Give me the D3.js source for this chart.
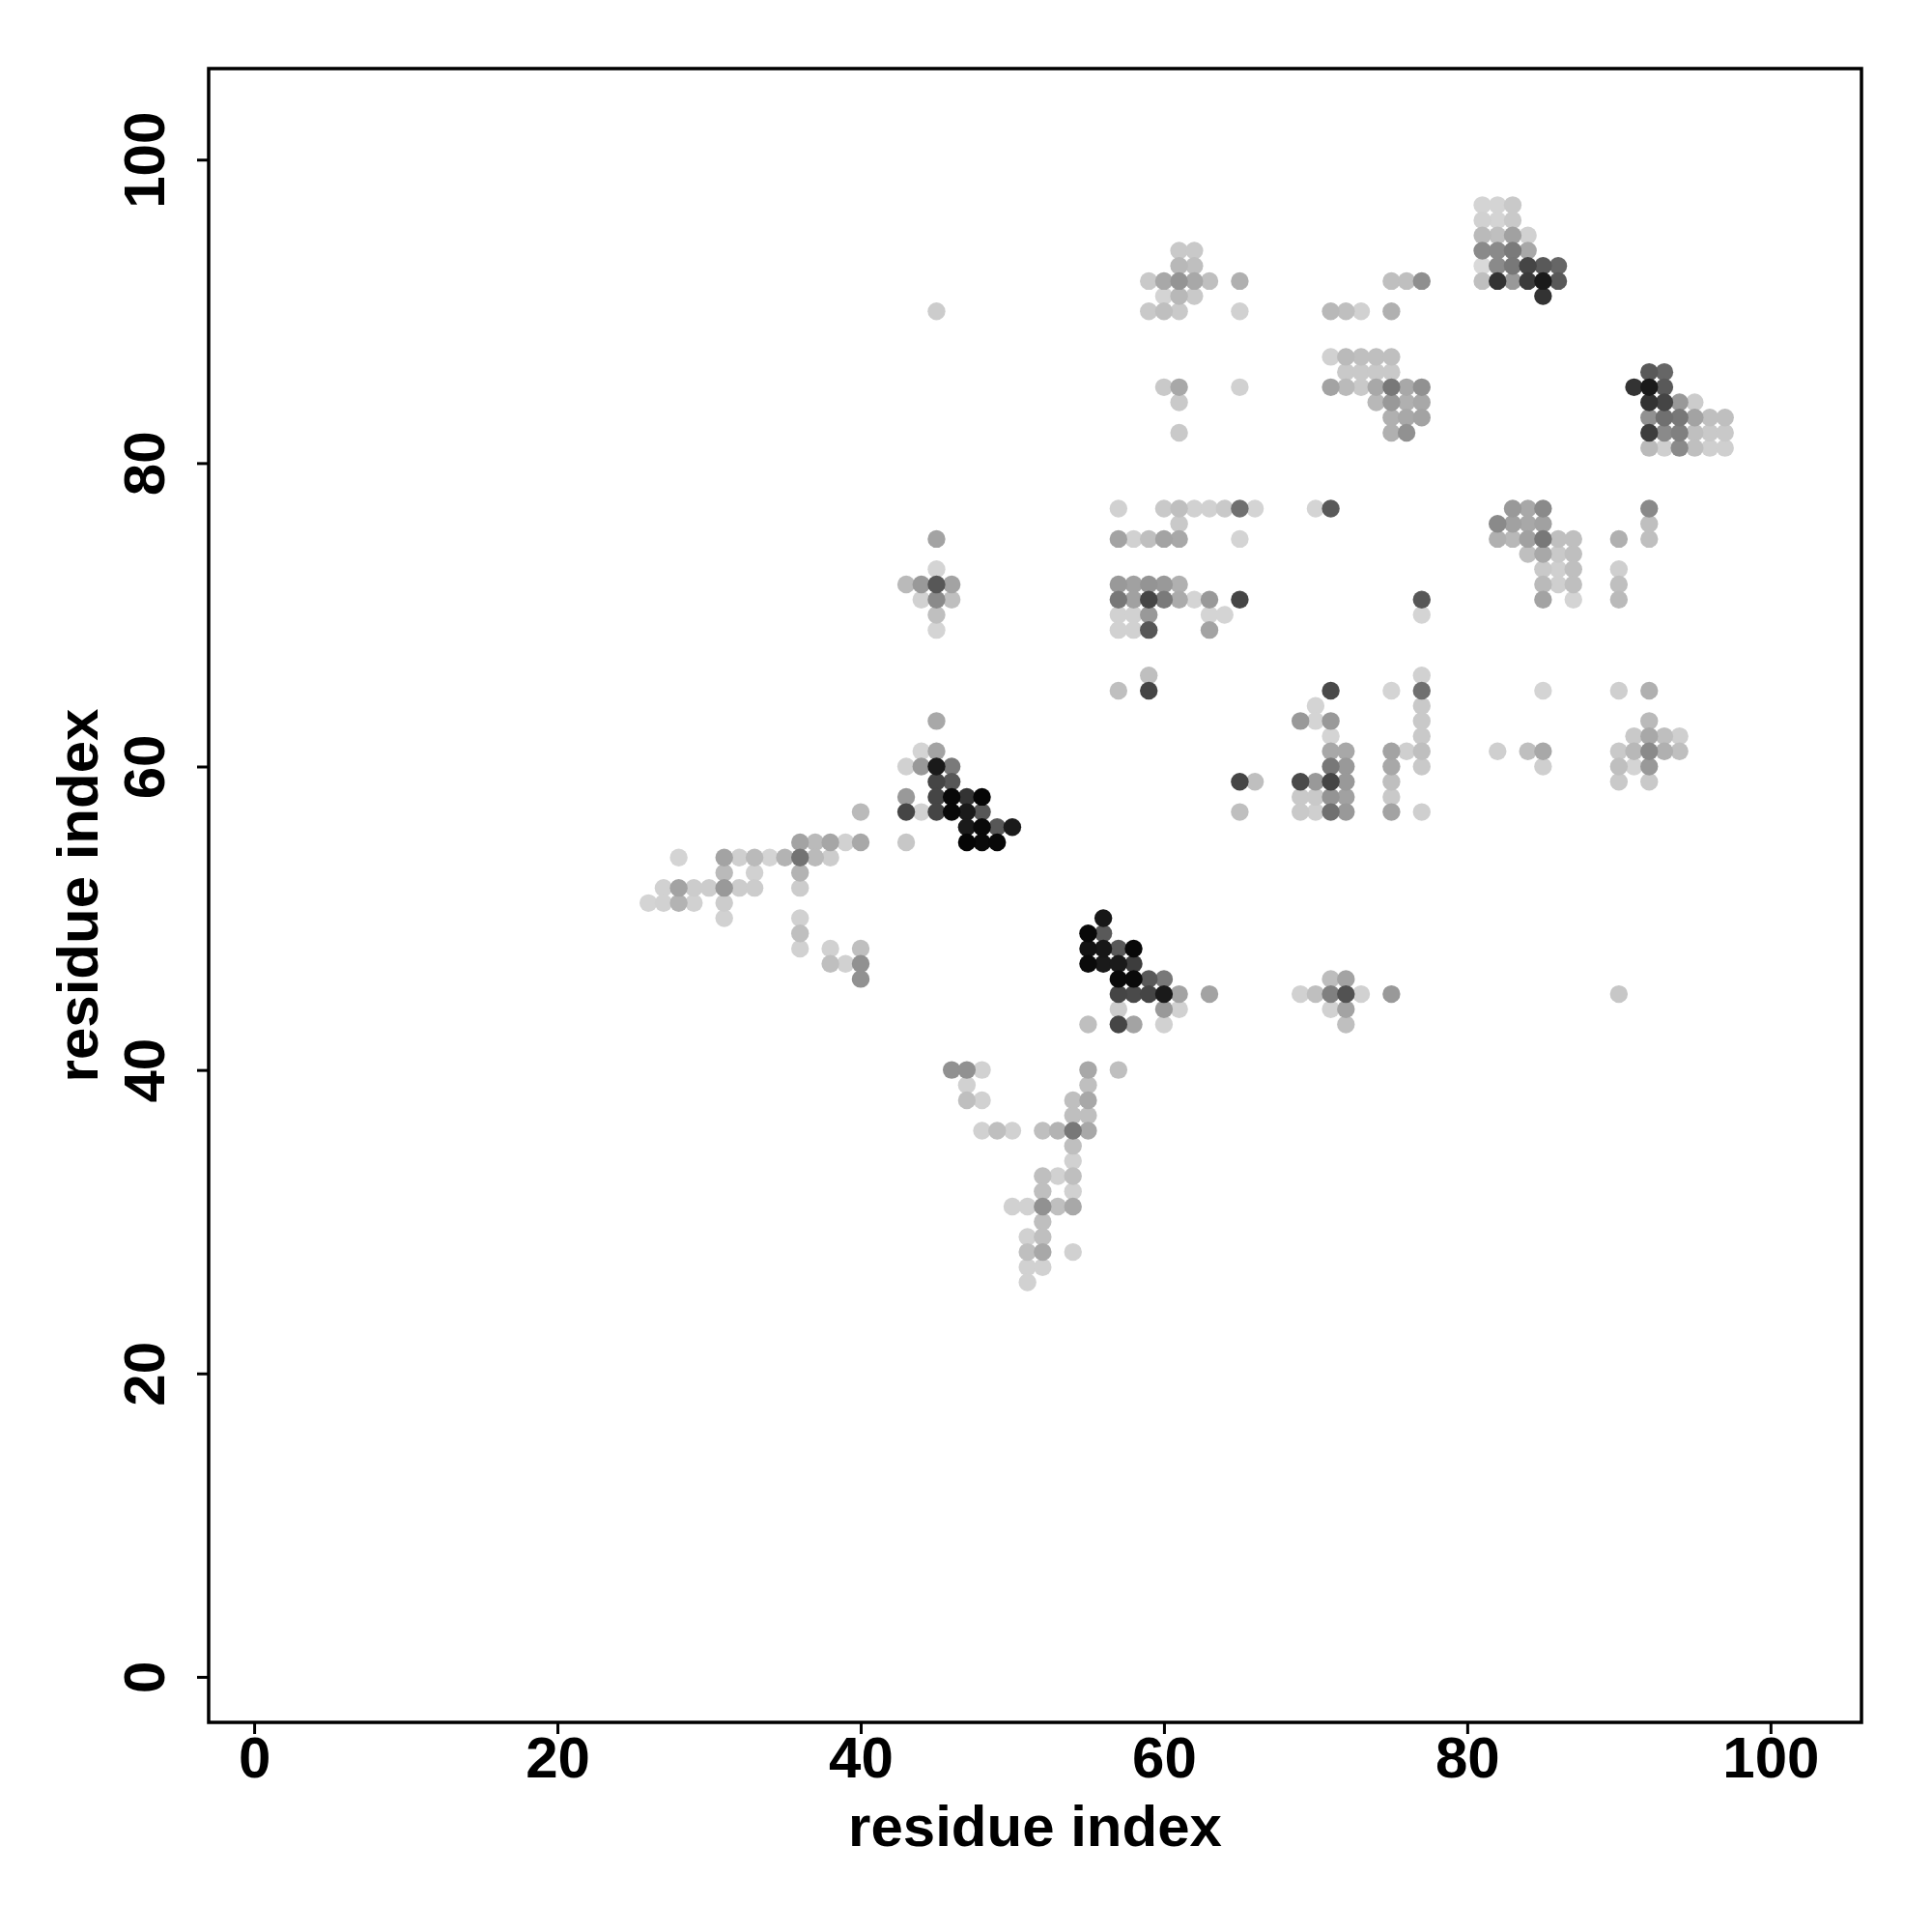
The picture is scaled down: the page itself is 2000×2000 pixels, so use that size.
<!DOCTYPE html>
<html>
<head>
<meta charset="utf-8">
<script src="https://cdn.jsdelivr.net/npm/d3@7"></script>
<style>
  html, body { margin: 0; padding: 0; background: #ffffff; }
  svg { display: block; }
</style>
</head>
<body>
<svg id="chart" width="2000" height="2000"></svg>
<script>
// ---- data ----
const xTicks = [0, 20, 40, 60, 80, 100];
const yTicks = [0, 20, 40, 60, 80, 100];
const xTitle = "residue index";
const yTitle = "residue index";

// contacts: [residue i, residue j, contact frequency]
const contacts = [
  // lower strand region
  [31,50,.18],[36,50,.18],[36,49,.25],[36,48,.18],[38,48,.18],[40,48,.25],
  [38,47,.25],[39,47,.18],[40,47,.43],[40,46,.43],
  [46,40,.43],[47,40,.43],[48,40,.18],[47,39,.18],[47,38,.25],[48,38,.18],
  [48,36,.18],[49,36,.25],[50,36,.18],[50,31,.18],
  [55,40,.34],[57,40,.25],[55,39,.25],[54,38,.25],[55,38,.34],[54,37,.25],[55,37,.25],
  [52,36,.25],[53,36,.30],[54,36,.53],[55,36,.34],[54,35,.25],[54,34,.18],
  [52,33,.25],[53,33,.18],[54,33,.25],[52,32,.25],[54,32,.18],
  [51,31,.18],[52,31,.43],[53,31,.25],[54,31,.34],[52,30,.25],
  [51,29,.18],[52,29,.25],[51,28,.25],[52,28,.34],[54,28,.18],
  [51,27,.18],[52,27,.18],[51,26,.18],
  // helix / sheet near 45-60
  [56,50,.91],[55,49,.97],[56,49,.65],
  [55,48,.93],[56,48,.91],[57,48,.65],[58,48,.97],
  [55,47,.96],[56,47,.90],[57,47,.90],[58,47,.76],
  [57,46,.96],[58,46,.96],[59,46,.65],[60,46,.53],
  [57,45,.73],[58,45,.71],[59,45,.73],[60,45,.90],[61,45,.36],[63,45,.36],
  [69,45,.18],[70,45,.25],[71,45,.50],[72,45,.68],[73,45,.18],[75,45,.40],[90,45,.22],
  [71,46,.26],[72,46,.36],
  [57,44,.20],[60,44,.40],[61,44,.18],[71,44,.18],[72,44,.36],
  [55,43,.25],[57,43,.73],[58,43,.36],[60,43,.18],[72,43,.25],
  // region 26-50 x 51-75
  [45,75,.36],[45,73,.17],
  [43,72,.27],[44,72,.40],[45,72,.66],[46,72,.36],
  [44,71,.18],[45,71,.46],[46,71,.25],[45,70,.25],[45,69,.17],
  [45,63,.34],[44,61,.17],[45,61,.36],
  [43,60,.18],[44,60,.40],[45,60,.90],[46,60,.52],
  [45,59,.73],[46,59,.66],
  [43,58,.40],[45,58,.73],[46,58,.97],[47,58,.80],[48,58,.98],
  [40,57,.27],[43,57,.73],[44,57,.18],[45,57,.73],[46,57,.97],[47,57,.90],[48,57,.66],
  [47,56,.90],[48,56,.96],[49,56,.66],[50,56,.90],
  [36,55,.36],[37,55,.27],[38,55,.35],[39,55,.18],[40,55,.34],[43,55,.22],
  [47,55,.98],[48,55,.96],[49,55,.97],
  [28,54,.17],[31,54,.36],[32,54,.19],[33,54,.27],[34,54,.17],[35,54,.30],[36,54,.55],[37,54,.27],[38,54,.20],
  [31,53,.27],[33,53,.18],[36,53,.30],
  [27,52,.18],[28,52,.36],[29,52,.20],[30,52,.20],[31,52,.40],[32,52,.20],[33,52,.20],[36,52,.20],
  [26,51,.17],[27,51,.18],[28,51,.30],[29,51,.18],[31,51,.20],
  // region 56-75 x 51-75
  [57,75,.36],[58,75,.18],[59,75,.25],[60,75,.36],[61,75,.34],[65,75,.17],
  [57,72,.40],[58,72,.37],[59,72,.42],[60,72,.40],[61,72,.31],
  [57,71,.53],[58,71,.37],[59,71,.73],[60,71,.52],[61,71,.33],[62,71,.17],[63,71,.40],[65,71,.73],
  [57,70,.18],[58,70,.18],[59,70,.40],[63,70,.17],[64,70,.17],
  [57,69,.18],[58,69,.18],[59,69,.66],[63,69,.36],
  [59,66,.25],[57,65,.25],[59,65,.73],[71,65,.71],[75,65,.17],
  [70,64,.17],[69,63,.40],[70,63,.17],[71,63,.40],[71,62,.17],
  [71,61,.34],[72,61,.34],[75,61,.36],
  [71,60,.53],[72,60,.40],[75,60,.34],
  [65,59,.73],[66,59,.25],[69,59,.71],[70,59,.40],[71,59,.73],[72,59,.40],[75,59,.25],
  [69,58,.21],[70,58,.21],[71,58,.42],[72,58,.37],[75,58,.21],
  [65,57,.25],[69,57,.21],[70,57,.19],[71,57,.56],[72,57,.40],[75,57,.36],
  // region 76-97 x 51-75
  [82,75,.31],[83,75,.28],[84,75,.37],[85,75,.53],[86,75,.25],[87,75,.25],[90,75,.31],[92,75,.25],
  [84,74,.25],[85,74,.34],[86,74,.21],[87,74,.25],
  [85,73,.21],[86,73,.19],[87,73,.25],[90,73,.19],
  [85,72,.27],[86,72,.19],[87,72,.25],[90,72,.25],
  [85,71,.36],[87,71,.17],[90,71,.27],
  [77,71,.66],[77,70,.17],
  [77,66,.18],[77,65,.56],[77,64,.21],[77,63,.21],[77,62,.21],[77,61,.25],[77,60,.21],[77,57,.19],
  [76,61,.19],
  [85,65,.17],[90,65,.19],[92,65,.31],[92,63,.27],
  [91,62,.21],[92,62,.34],[93,62,.25],[94,62,.19],
  [82,61,.19],[84,61,.25],[85,61,.34],[90,61,.21],[91,61,.28],[92,61,.46],[93,61,.31],[94,61,.25],
  [85,60,.19],[90,60,.25],[91,60,.17],[92,60,.40],
  [90,59,.21],[92,59,.21],
  // region 56-77 x 76-94
  [61,94,.21],[62,94,.21],[61,93,.28],[62,93,.25],
  [59,92,.21],[60,92,.34],[61,92,.42],[62,92,.34],[63,92,.25],[65,92,.31],
  [60,91,.17],[61,91,.28],[62,91,.21],
  [59,90,.21],[60,90,.25],[61,90,.21],[65,90,.18],
  [71,90,.28],[72,90,.25],[73,90,.18],[75,90,.31],
  [75,92,.25],[76,92,.25],[77,92,.44],
  [71,87,.18],[72,87,.27],[73,87,.25],[74,87,.25],[75,87,.25],
  [72,86,.21],[73,86,.21],[74,86,.21],[75,86,.21],
  [60,85,.21],[61,85,.34],[65,85,.18],
  [71,85,.36],[72,85,.27],[73,85,.21],[74,85,.34],[75,85,.53],[76,85,.34],[77,85,.43],
  [61,84,.21],[74,84,.28],[75,84,.40],[76,84,.31],[77,84,.34],
  [75,83,.31],[76,83,.34],[77,83,.36],
  [61,82,.21],[75,82,.31],[76,82,.43],
  [57,77,.18],[60,77,.21],[61,77,.25],[62,77,.18],[63,77,.18],[64,77,.21],[65,77,.56],[66,77,.17],
  [70,77,.17],[71,77,.65],
  [61,76,.21],
  [45,90,.20],
  // region 81-97 x 76-97
  [81,97,.17],[82,97,.17],[83,97,.21],
  [81,96,.18],[82,96,.17],[83,96,.21],
  [81,95,.27],[82,95,.25],[83,95,.37],[84,95,.18],
  [81,94,.46],[82,94,.46],[83,94,.52],[84,94,.34],
  [81,93,.15],[82,93,.46],[83,93,.53],[84,93,.73],[85,93,.65],[86,93,.60],
  [81,92,.25],[82,92,.80],[83,92,.40],[84,92,.77],[85,92,.90],[86,92,.65],
  [85,91,.80],
  [92,86,.65],[93,86,.60],
  [91,85,.80],[92,85,.90],[93,85,.65],
  [92,84,.80],[93,84,.73],[94,84,.40],[95,84,.20],
  [92,83,.43],[93,83,.56],[94,83,.53],[95,83,.36],[96,83,.25],[97,83,.25],
  [92,82,.76],[93,82,.46],[94,82,.50],[95,82,.25],[96,82,.21],[97,82,.21],
  [92,81,.27],[93,81,.19],[94,81,.46],[95,81,.25],[96,81,.19],[97,81,.19],
  [83,77,.40],[84,77,.34],[85,77,.46],[92,77,.46],
  [82,76,.46],[83,76,.37],[84,76,.34],[85,76,.37],[92,76,.25]
];

// ---- layout ----
const svg = d3.select("#chart");
const plot = { left: 216, right: 1927, top: 71, bottom: 1783 };
const x = d3.scaleLinear().domain([-3, 106]).range([plot.left, plot.right]);
const y = d3.scaleLinear().domain([-3, 106]).range([plot.bottom, plot.top]);
const grey = d3.scaleLinear().domain([0, 1]).range(["#ffffff", "#000000"]);
const font = "'Liberation Sans', Arial, Helvetica, sans-serif";

svg.append("rect").attr("width", 2000).attr("height", 2000).attr("fill", "#ffffff");

// points
const sorted = contacts.slice().sort((a, b) => a[2] - b[2]);
svg.append("g").selectAll("circle")
  .data(sorted)
  .join("circle")
  .attr("cx", d => x(d[0]))
  .attr("cy", d => y(d[1]))
  .attr("r", 9.2)
  .attr("fill", d => grey(d[2]));

// frame
svg.append("rect")
  .attr("x", plot.left).attr("y", plot.top)
  .attr("width", plot.right - plot.left).attr("height", plot.bottom - plot.top)
  .attr("fill", "none").attr("stroke", "#000").attr("stroke-width", 3.5);

// x axis
const gx = svg.append("g")
  .attr("transform", `translate(0,${plot.bottom})`)
  .call(d3.axisBottom(x).tickValues(xTicks).tickSize(12).tickPadding(2).tickFormat(d3.format("d")));
gx.select(".domain").remove();
gx.selectAll("line").attr("stroke", "#000").attr("stroke-width", 3);
gx.selectAll("text")
  .attr("fill", "#000")
  .style("font-family", font).style("font-weight", "bold").style("font-size", "60px");

// y axis
const gy = svg.append("g")
  .attr("transform", `translate(${plot.left},0)`)
  .call(d3.axisLeft(y).tickValues(yTicks).tickSize(12).tickFormat(d3.format("d")));
gy.select(".domain").remove();
gy.selectAll("line").attr("stroke", "#000").attr("stroke-width", 3);
gy.selectAll("text")
  .attr("x", 0).attr("dy", 0)
  .attr("text-anchor", "middle")
  .attr("transform", "translate(-46,0) rotate(-90)")
  .attr("fill", "#000")
  .style("font-family", font).style("font-weight", "bold").style("font-size", "60px");

// titles
svg.append("text")
  .attr("x", (plot.left + plot.right) / 2).attr("y", 1911)
  .attr("text-anchor", "middle")
  .style("font-family", font).style("font-weight", "bold").style("font-size", "60px")
  .text(xTitle);
svg.append("text")
  .attr("transform", `translate(101,${(plot.top + plot.bottom) / 2}) rotate(-90)`)
  .attr("text-anchor", "middle")
  .style("font-family", font).style("font-weight", "bold").style("font-size", "60px")
  .text(yTitle);
</script>
</body>
</html>
